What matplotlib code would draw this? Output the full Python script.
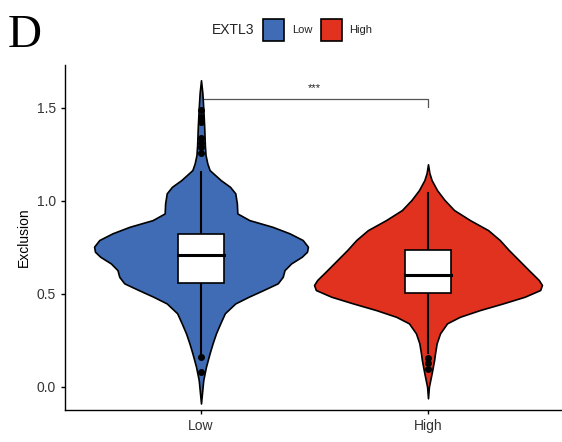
import numpy as np
import matplotlib as mpl
import matplotlib.pyplot as plt
from matplotlib.patches import Rectangle

mpl.rcParams["font.family"] = ["Liberation Sans", "DejaVu Sans"]

GROUPS = ["Low", "High"]
COLORS = ["#3F6CB4", "#E0321F"]

# violin outline: value -> half width (x units)
LOW_Y = [1.648, 1.580, 1.497, 1.400, 1.300, 1.246, 1.200, 1.165, 1.111, 1.075,
         1.040, 0.986, 0.932, 0.896, 0.860, 0.825, 0.789, 0.753, 0.726, 0.699,
         0.663, 0.627, 0.591, 0.556, 0.520, 0.484, 0.448, 0.395, 0.341, 0.287,
         0.233, 0.180, 0.108, 0.036, -0.090]
LOW_W = [0.000, 0.006, 0.010, 0.014, 0.017, 0.020, 0.028, 0.038, 0.087, 0.128,
         0.151, 0.158, 0.160, 0.213, 0.315, 0.390, 0.448, 0.471, 0.467, 0.444,
         0.397, 0.368, 0.360, 0.338, 0.275, 0.210, 0.151, 0.105, 0.085, 0.066,
         0.051, 0.038, 0.022, 0.010, 0.000]
HIGH_Y = [1.196, 1.150, 1.111, 1.057, 1.004, 0.950, 0.896, 0.842, 0.789, 0.735,
          0.681, 0.627, 0.574, 0.547, 0.520, 0.484, 0.448, 0.412, 0.376, 0.341,
          0.287, 0.233, 0.180, 0.144, 0.072, 0.000, -0.062]
HIGH_W = [0.000, 0.006, 0.016, 0.040, 0.073, 0.115, 0.185, 0.265, 0.316, 0.356,
          0.400, 0.444, 0.488, 0.502, 0.494, 0.426, 0.330, 0.228, 0.140, 0.084,
          0.053, 0.038, 0.031, 0.027, 0.016, 0.004, 0.000]

# box stats: whisker low, q1, median, q3, whisker high
BOX = [
    [0.174, 0.560, 0.710, 0.822, 1.156],
    [0.180, 0.503, 0.602, 0.733, 1.040],
]
OUTLIERS = [
    [1.488, 1.453, 1.425, 1.336, 1.310, 1.290, 1.255, 0.161, 0.081],
    [0.155, 0.130, 0.095],
]

fig = plt.figure(figsize=(5.62, 4.42), dpi=100)
W, H = 562, 442
ax = fig.add_axes([64.8 / W, (H - 410) / H, 499.4 / W, (410 - 65) / H])

violins = [(LOW_Y, LOW_W), (HIGH_Y, HIGH_W)]
for i, ((vy, vw), col) in enumerate(zip(violins, COLORS)):
    x = i + 1
    vy = np.array(vy)
    vw = np.array(vw)
    ax.fill_betweenx(vy, x - vw, x + vw, facecolor=col, edgecolor="black",
                     lw=1.2, joinstyle="round", zorder=2)

for i, (b, outl) in enumerate(zip(BOX, OUTLIERS)):
    x = i + 1
    lo, q1, med, q3, hi = b
    ax.plot([x, x], [q3, hi], color="black", lw=1.5, zorder=3)
    ax.plot([x, x], [lo, q1], color="black", lw=1.5, zorder=3)
    ax.add_patch(Rectangle((x - 0.1, q1), 0.2, q3 - q1, facecolor="white",
                           edgecolor="black", lw=1.2, zorder=4))
    ax.plot([x - 0.1, x + 0.1], [med, med], color="black", lw=2.2, zorder=5)
    ax.plot([x] * len(outl), outl, "o", color="black", ms=4, zorder=5)

# significance bracket
ax.plot([1, 1, 2, 2], [1.502, 1.545, 1.545, 1.502], color="#555555", lw=0.9,
        zorder=1)
ax.text(1.5, 1.58, "***", ha="center", va="bottom", fontsize=8, color="#222222")

ax.set_xlim(0.4, 2.6)
ax.set_ylim(-0.125, 1.73)
ax.set_xticks([1, 2])
ax.set_xticklabels(GROUPS)
ax.set_yticks([0.0, 0.5, 1.0, 1.5])
ax.set_yticklabels(["0.0", "0.5", "1.0", "1.5"])
ax.tick_params(labelsize=10, colors="black", labelcolor="#333333", length=3,
               width=1)
ax.set_ylabel("Exclusion", fontsize=10, labelpad=4)
for s in ["top", "right"]:
    ax.spines[s].set_visible(False)
for s in ["left", "bottom"]:
    ax.spines[s].set_linewidth(1.0)

# panel letter
fig.text(8 / W, 1 - 47 / H, "D", family="Liberation Serif", fontsize=34,
         ha="left", va="baseline")

# legend
fig.text(212 / W, 1 - 30 / H, "EXTL3", fontsize=10, ha="left", va="center",
         color="#222222")
for (lab, col, kx, tx) in [("Low", COLORS[0], 263, 292), ("High", COLORS[1], 321, 349)]:
    fig.add_artist(Rectangle((kx / W, 1 - 41 / H), 21 / W, 22 / H,
                             facecolor=col, edgecolor="black", lw=1.2,
                             transform=fig.transFigure))
    fig.text(tx / W, 1 - 30 / H, lab, fontsize=8, ha="left", va="center",
             color="#222222")

fig.savefig("out.png", dpi=100)
